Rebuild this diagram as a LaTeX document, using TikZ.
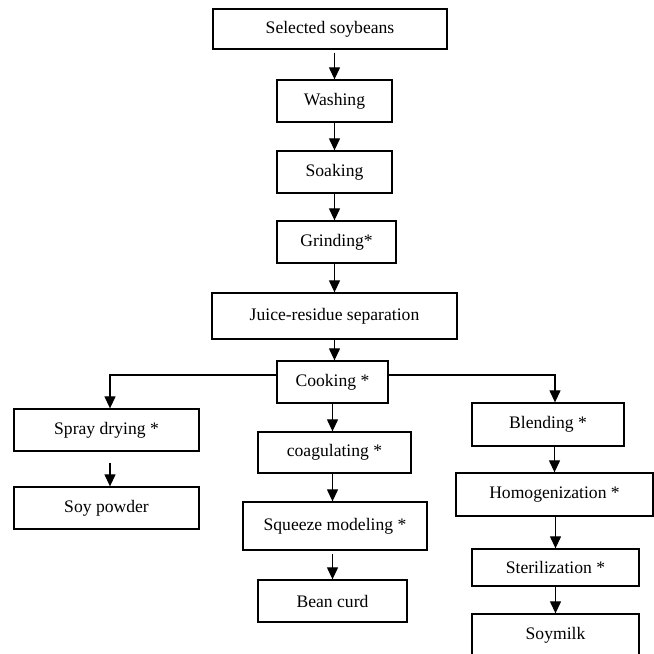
\documentclass[tikz,border=0pt]{standalone}
\usepackage{fontspec}
\setmainfont{Liberation Serif}
\usetikzlibrary{arrows.meta}
\begin{document}
\begin{tikzpicture}[x=1pt,y=-1pt,
  box/.style={draw=black,line width=1.3pt,fill=white,inner sep=0pt,font=\fontsize{17.6}{20}\selectfont},
  arr/.style={draw=black,line width=1.2pt,-{Triangle[width=11pt,length=12pt]}}]
\useasboundingbox (0,0) rectangle (654,654);
\node[box,minimum width=234pt,minimum height=40pt] (sel) at (330,29) {Selected soybeans};
\node[box,minimum width=115pt,minimum height=42pt] (wash) at (334.5,101) {Washing};
\node[box,minimum width=115pt,minimum height=42pt] (soak) at (334.5,172) {Soaking};
\node[box,minimum width=119pt,minimum height=42pt] (grind) at (336.5,242) {Grinding*};
\node[box,minimum width=245pt,minimum height=46pt] (juice) at (334.5,316) {Juice-residue separation};
\node[box,minimum width=111pt,minimum height=42pt] (cook) at (332.5,382) {Cooking *};
\node[box,minimum width=185pt,minimum height=42pt] (spray) at (106.5,430) {Spray drying *};
\node[box,minimum width=185pt,minimum height=42pt] (powder) at (106.5,508) {Soy powder};
\node[box,minimum width=153pt,minimum height=41pt] (coag) at (334.5,452.5) {coagulating *};
\node[box,minimum width=184pt,minimum height=48pt] (squeeze) at (335,526) {Squeeze modeling *};
\node[box,minimum width=149pt,minimum height=42pt] (curd) at (332.5,601) {Bean curd};
\node[box,minimum width=152pt,minimum height=43pt] (blend) at (548,424.5) {Blending *};
\node[box,minimum width=197pt,minimum height=43pt] (homog) at (554.5,494.5) {Homogenization *};
\node[box,minimum width=167pt,minimum height=37pt] (steril) at (555.5,567.5) {Sterilization *};
\node[box,minimum width=167pt,minimum height=42pt] (soymilk) at (555.5,635) {\raisebox{2pt}{Soymilk}};
\draw[arr] ([yshift=-3pt]wash.north |- sel.south) -- (wash.north);
\draw[arr] (soak.north |- wash.south) -- (soak.north);
\draw[arr] (soak.south) -- (soak.south |- grind.north);
\draw[arr] (soak.south |- grind.south) -- (soak.south |- juice.north);
\draw[arr] (soak.south |- juice.south) -- (soak.south |- cook.north);
\draw[arr] ([yshift=7pt]cook.west) -| ([xshift=3.5pt]spray.north);
\draw[arr] ([yshift=7pt]cook.east) -| ([xshift=7pt]blend.north);
\draw[arr] (cook.south) -- (cook.south |- coag.north);
\draw[arr] (cook.south |- coag.south) -- (cook.south |- squeeze.north);
\draw[arr] ([yshift=-3pt]curd.north |- squeeze.south) -- (curd.north);
\draw[arr] ([xshift=3.5pt,yshift=-11pt]spray.south) -- ([xshift=3.5pt]powder.north);
\draw[arr] (homog.north |- blend.south) -- (homog.north);
\draw[arr] (steril.north |- homog.south) -- (steril.north);
\draw[arr] (steril.south) -- (steril.south |- soymilk.north);
\end{tikzpicture}
\end{document}
